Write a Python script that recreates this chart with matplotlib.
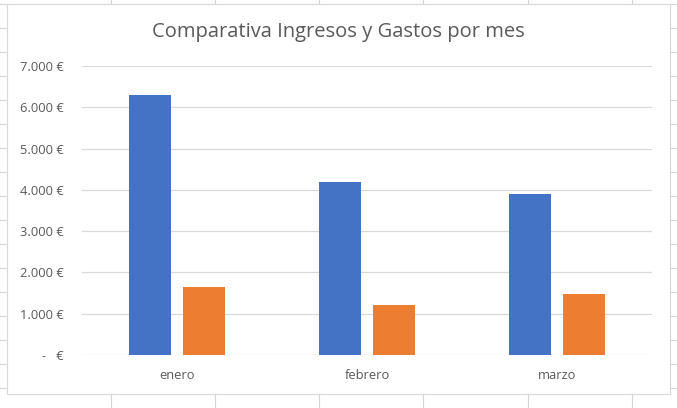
import numpy as np
import matplotlib.pyplot as plt
from matplotlib.lines import Line2D
from matplotlib.patches import Rectangle

meses = ['enero', 'febrero', 'marzo']
ingresos = [6300, 4200, 3900]
gastos = [1650, 1220, 1480]
ticks_y = [0, 1000, 2000, 3000, 4000, 5000, 6000, 7000]
etiquetas_y = ['-   €', '1.000 €', '2.000 €', '3.000 €', '4.000 €',
               '5.000 €', '6.000 €', '7.000 €']

W, H = 677, 408
gris = '#595959'

fig = plt.figure(figsize=(W / 100, H / 100), dpi=100)
fig.patch.set_facecolor('white')

# cuadricula de la hoja de calculo detras del grafico
for x in [111, 215, 319, 423, 528, 632]:
    fig.add_artist(Line2D([x / W, x / W], [0, 1], color='#D4D4D4', lw=0.8, zorder=0))
for y in range(4, H, 24):
    fig.add_artist(Line2D([0, 1], [1 - y / H, 1 - y / H], color='#D4D4D4', lw=0.8, zorder=0))

# area del grafico
fig.add_artist(Rectangle((7 / W, 1 - 394 / H), 663 / W, 390 / H, facecolor='white',
                         edgecolor='#D9D9D9', lw=0.8, zorder=1))

ax = fig.add_axes([82 / W, 53 / H, 570 / W, 289 / H], zorder=2)
ax.set_facecolor('none')

x = np.arange(len(meses))
ancho = 0.221
sep = 0.142
ax.bar(x - sep, ingresos, ancho, color='#4472C4', zorder=3)
ax.bar(x + sep, gastos, ancho, color='#ED7D31', zorder=3)

ax.set_xlim(-0.5, 2.5)
ax.set_ylim(0, 7000)
ax.set_xticks(x)
ax.set_xticklabels(meses, fontsize=9.3, color=gris, family='Open Sans')
ax.set_yticks(ticks_y)
ax.set_yticklabels(etiquetas_y, fontsize=9.3, color=gris, family='Open Sans')
ax.tick_params(length=0, pad=13)
ax.tick_params(axis='x', pad=10)
ax.grid(axis='y', color='#D9D9D9', lw=0.9, zorder=0)
for s in ax.spines.values():
    s.set_visible(False)

fig.text(338 / W, 1 - 32 / H, 'Comparativa Ingresos y Gastos por mes', ha='center',
         va='center', fontsize=14.5, color=gris, family='Open Sans', zorder=3)

fig.savefig('out.png', dpi=100)
